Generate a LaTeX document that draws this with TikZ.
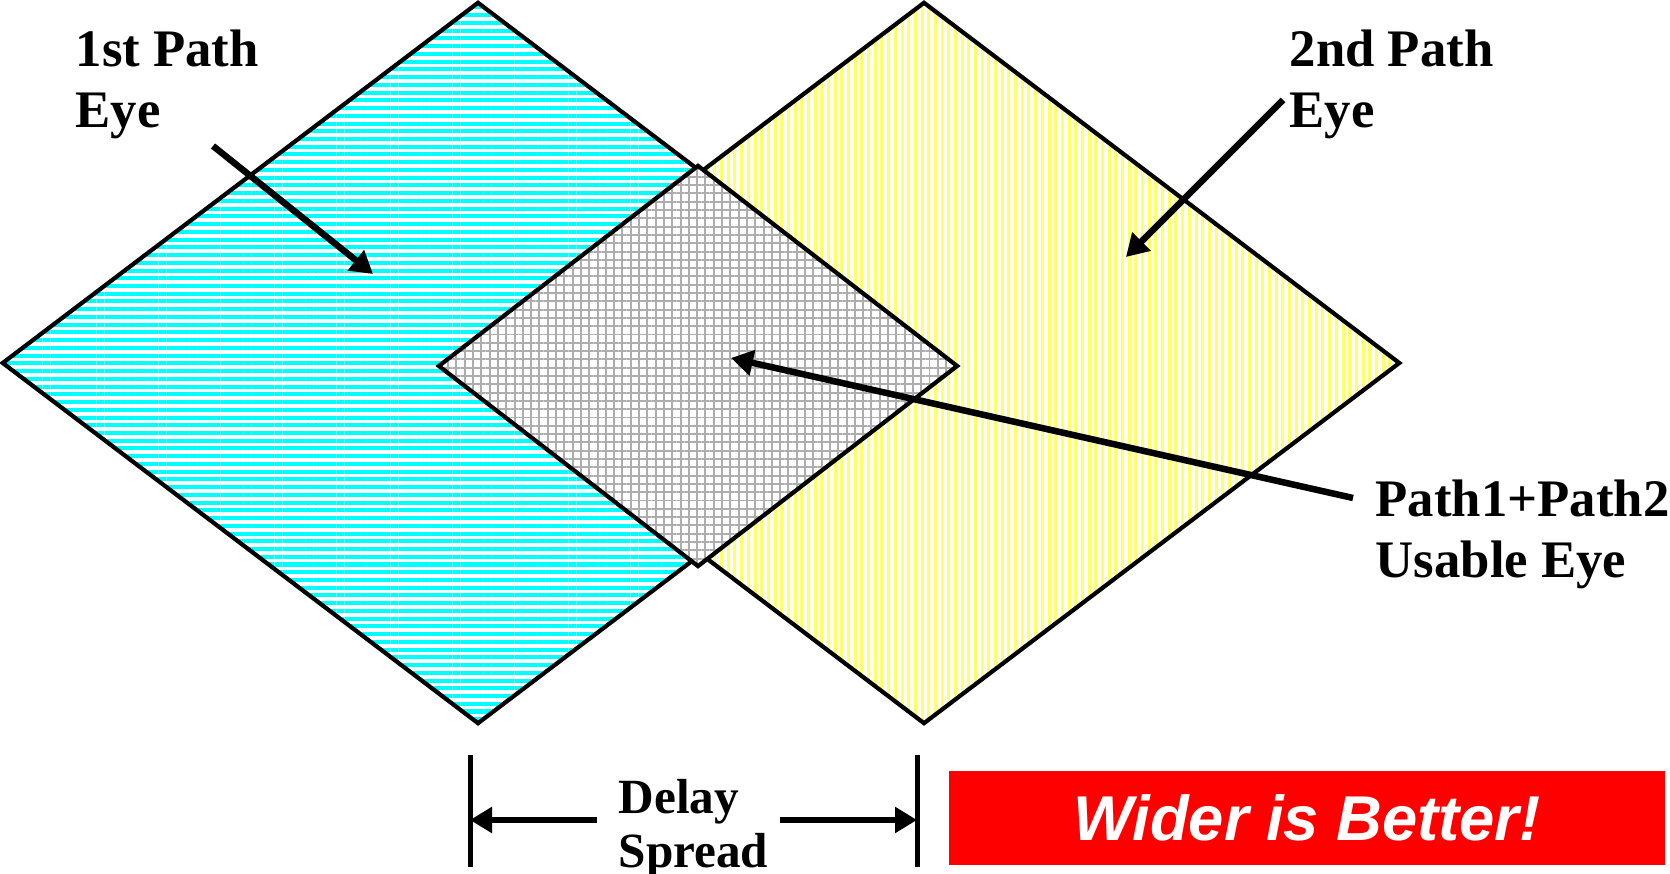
\documentclass[tikz,border=0pt]{standalone}
\usepackage{fontspec}
\setmainfont{Liberation Serif}
\newfontfamily\bettfont{Liberation Sans}
\usetikzlibrary{arrows.meta,shapes.geometric,patterns.meta}
\tikzset{%
  >={Triangle[width=2.5mm,length=2.2mm]},
  % Specifications for style of the eyes:
         eyebase/.style = {diamond, draw=black, line width=0.42mm,
                           inner sep=0pt, outer sep=0pt,
                           minimum width=9.5cm, minimum height=7.2cm},
         cyaneye/.style = {eyebase, pattern color=cyan,
                           pattern={Lines[angle=0,distance=2.2pt,line width=1.15pt]}},
       yelloweye/.style = {eyebase, preaction={fill=white}, pattern color=yellow!60,
                           pattern={Lines[angle=90,distance=1.9pt,line width=0.85pt]}},
         grayeye/.style = {eyebase, minimum width=5.18cm, minimum height=4cm,
                           preaction={fill=white}, pattern color=black!32,
                           pattern={Hatch[angle=0,distance=2.36pt,line width=0.55pt]}},
  % text and arrows (base = last line)
        eyelabel/.style = {font=\fontsize{15}{17.6}\selectfont\bfseries,
                           align=left, anchor=base west, inner sep=0pt},
         pointer/.style = {->, line width=0.65mm},
          barend/.style = {line width=0.5mm},
}

\begin{document}
\begin{tikzpicture}[x=0.01cm, y=-0.01cm]
  \useasboundingbox (0,0) rectangle (1670,874);

  % the three eyes
  \node (eye1)  [cyaneye]   at (478,363) {};
  \node (eye2)  [yelloweye] at (924,363) {};
  \node (both)  [grayeye]   at (698,366) {};

  % labels
  \node (lbl1)  [eyelabel] at (75,128)   {1st Path\\Eye};
  \node (lbl2)  [eyelabel] at (1289,128) {2nd Path\\Eye};
  \node (lbl12) [eyelabel] at (1375,578) {Path1+Path2\\Usable Eye};
  \node (delay) [eyelabel, font=\fontsize{14}{15.6}\selectfont\bfseries] at (618,868) {Delay\\Spread};

  \node (better) [fill=red, text=white, inner sep=0pt,
                  minimum width=7.15cm, minimum height=0.94cm,
                  font=\bettfont\fontsize{18}{20}\selectfont\bfseries\itshape]
                  at (1307,818) {Wider is Better!};

  % pointers
  \coordinate (from1)  at (213,146);  \coordinate (to1)  at (373,274);
  \coordinate (from2)  at (1283,100); \coordinate (to2)  at (1126,257);
  \coordinate (from12) at (1353,498); \coordinate (to12) at (731,358);
  \draw[pointer] (from1) -- (to1);
  \draw[pointer] (from2) -- (to2);
  \draw[pointer] (from12) -- (to12);

  % delay spread
  \coordinate (barLtop) at (470,755); \coordinate (barLbot) at (470,867);
  \coordinate (barRtop) at (917,755); \coordinate (barRbot) at (917,867);
  \coordinate (dsL) at (597,820);     \coordinate (dsR) at (780,820);
  \draw[barend] (barLtop) -- (barLbot);
  \draw[barend] (barRtop) -- (barRbot);
  \draw[pointer, line width=0.55mm] (dsL) -- (barLtop |- dsL);
  \draw[pointer, line width=0.55mm] (dsR) -- (barRtop |- dsR);
\end{tikzpicture}
\end{document}
